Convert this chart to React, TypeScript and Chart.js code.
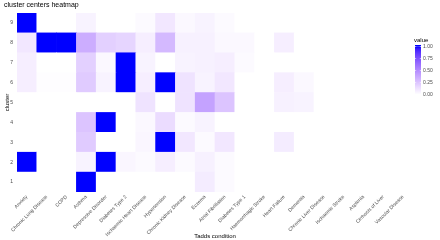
import React, { useEffect, useRef } from "react";
import { Chart, registerables } from "chart.js";

Chart.register(...registerables);

const conditions = [
  "Anxiety",
  "Chronic Lung Disease",
  "COPD",
  "Asthma",
  "Depressive Disorder",
  "Diabetes Type 2",
  "Ischaemic Heart Disease",
  "Hypertension",
  "Chronic Kidney Disease",
  "Eczema",
  "Atrial Fibrillation",
  "Diabetes Type 1",
  "Haemorrhagic Stroke",
  "Heart Failure",
  "Dementia",
  "Chronic Liver Disease",
  "Ischaemic Stroke",
  "Asplenia",
  "Cirrhosis of Liver",
  "Vascular Disease",
];

const clusterIds = [1, 2, 3, 4, 5, 6, 7, 8, 9];

const cluster1 = [0, 0, 0, 1.0, 0, 0, 0, 0, 0, 0.08, 0.02, 0, 0, 0, 0, 0, 0, 0, 0, 0];
const cluster2 = [1.0, 0, 0, 0.05, 1.0, 0.04, 0.02, 0.07, 0.02, 0.06, 0.02, 0, 0, 0, 0, 0, 0, 0, 0, 0];
const cluster3 = [0, 0, 0, 0.22, 0, 0, 0.04, 1.0, 0.1, 0.02, 0.1, 0, 0, 0.08, 0, 0, 0, 0, 0, 0];
const cluster4 = [0, 0, 0, 0.25, 1.0, 0, 0.03, 0.15, 0.02, 0.05, 0, 0, 0, 0, 0, 0, 0, 0, 0, 0];
const cluster5 = [0, 0, 0, 0, 0, 0, 0.12, 0, 0.12, 0.4, 0.25, 0, 0, 0.06, 0.05, 0, 0, 0, 0, 0];
const cluster6 = [0.07, 0.01, 0.01, 0.22, 0.05, 1.0, 0.07, 1.0, 0.12, 0.05, 0.1, 0, 0, 0.07, 0.03, 0, 0, 0, 0, 0];
const cluster7 = [0.07, 0, 0, 0.2, 0.03, 1.0, 0.05, 0, 0.05, 0.06, 0.07, 0.02, 0, 0, 0, 0, 0, 0, 0, 0];
const cluster8 = [0.1, 1.0, 1.0, 0.35, 0.2, 0.18, 0.07, 0.3, 0.06, 0.06, 0.03, 0.03, 0, 0.07, 0, 0, 0, 0, 0, 0];
const cluster9 = [1.0, 0, 0, 0.05, 0, 0, 0.02, 0.1, 0.03, 0.05, 0.02, 0, 0, 0, 0, 0, 0, 0, 0, 0];

const clusterValues = [cluster1, cluster2, cluster3, cluster4, cluster5, cluster6, cluster7, cluster8, cluster9];

const legendTicks = [1.0, 0.75, 0.5, 0.25, 0.0];

const LOW = [255, 255, 255];
const HIGH = [0, 0, 255];

function toLin(c: number) {
  c /= 255;
  return c <= 0.04045 ? c / 12.92 : Math.pow((c + 0.055) / 1.055, 2.4);
}
function fromLin(c: number) {
  const v = c <= 0.0031308 ? 12.92 * c : 1.055 * Math.pow(c, 1 / 2.4) - 0.055;
  return Math.max(0, Math.min(255, Math.round(v * 255)));
}
const Xn = 0.95047, Yn = 1.0, Zn = 1.08883;
function rgbToLab(rgb: number[]) {
  const r = toLin(rgb[0]), g = toLin(rgb[1]), b = toLin(rgb[2]);
  const X = (0.4124 * r + 0.3576 * g + 0.1805 * b) / Xn;
  const Y = (0.2126 * r + 0.7152 * g + 0.0722 * b) / Yn;
  const Z = (0.0193 * r + 0.1192 * g + 0.9505 * b) / Zn;
  const f = (t: number) => (t > 0.008856 ? Math.cbrt(t) : 7.787 * t + 16 / 116);
  const fx = f(X), fy = f(Y), fz = f(Z);
  return [116 * fy - 16, 500 * (fx - fy), 200 * (fy - fz)];
}
function labToRgb(lab: number[]) {
  const fy = (lab[0] + 16) / 116;
  const fx = fy + lab[1] / 500;
  const fz = fy - lab[2] / 200;
  const inv = (t: number) => (t * t * t > 0.008856 ? t * t * t : (t - 16 / 116) / 7.787);
  const X = inv(fx) * Xn, Y = inv(fy) * Yn, Z = inv(fz) * Zn;
  const r = 3.2406 * X - 1.5372 * Y - 0.4986 * Z;
  const g = -0.9689 * X + 1.8758 * Y + 0.0415 * Z;
  const b = 0.0557 * X - 0.204 * Y + 1.057 * Z;
  return [fromLin(r), fromLin(g), fromLin(b)];
}
const LAB_LOW = rgbToLab(LOW);
const LAB_HIGH = rgbToLab(HIGH);
function colorFor(v: number) {
  const t = Math.max(0, Math.min(1, v));
  const lab = LAB_LOW.map((l, i) => l + (LAB_HIGH[i] - l) * t);
  const [r, g, b] = labToRgb(lab);
  return `rgb(${r},${g},${b})`;
}

const FONT = "'Liberation Sans', Arial, sans-serif";

const legendPlugin = {
  id: "colorbarLegend",
  afterDraw(chart: any) {
    const ctx = chart.ctx as CanvasRenderingContext2D;
    const barX = 415;
    const barW = 6;
    const barTop = 45;
    const barBottom = 96;
    const vTop = 46.5;
    const vBottom = 94.5;
    ctx.save();
    ctx.fillStyle = "#000";
    ctx.font = `6px ${FONT}`;
    ctx.textAlign = "left";
    ctx.textBaseline = "middle";
    ctx.fillText("value", 414, 40);
    const grad = ctx.createLinearGradient(0, vBottom, 0, vTop);
    for (let i = 0; i <= 20; i++) {
      grad.addColorStop(i / 20, colorFor(i / 20));
    }
    ctx.fillStyle = colorFor(1);
    ctx.fillRect(barX, barTop, barW, vTop - barTop);
    ctx.fillStyle = colorFor(0);
    ctx.fillRect(barX, vBottom, barW, barBottom - vBottom);
    ctx.fillStyle = grad;
    ctx.fillRect(barX, vTop, barW, vBottom - vTop);
    ctx.font = `5px ${FONT}`;
    ctx.fillStyle = "#4d4d4d";
    legendTicks.forEach((t) => {
      const y = vBottom - (vBottom - vTop) * t;
      ctx.strokeStyle = "#fff";
      ctx.lineWidth = 0.5;
      ctx.beginPath();
      ctx.moveTo(barX, y);
      ctx.lineTo(barX + 1.2, y);
      ctx.moveTo(barX + barW - 1.2, y);
      ctx.lineTo(barX + barW, y);
      ctx.stroke();
      ctx.fillText(t.toFixed(2), 423, y);
    });
    ctx.restore();
  },
};

export default function App() {
  const ref = useRef<HTMLCanvasElement | null>(null);
  useEffect(() => {
    if (!ref.current) return;
    const datasets = clusterIds.map((id, k) => ({
      label: String(id),
      data: conditions.map(() => [id - 0.5, id + 0.5]),
      backgroundColor: clusterValues[k].map((v) => colorFor(v)),
      borderWidth: 0,
      barPercentage: 1,
      categoryPercentage: 1,
      grouped: false,
    }));
    const chart = new Chart(ref.current, {
      type: "bar",
      data: { labels: conditions, datasets: datasets as any },
      options: {
        responsive: false,
        animation: false,
        devicePixelRatio: 1,
        layout: { padding: { left: 4, right: 27, top: 0, bottom: 0 } },
        plugins: {
          legend: { display: false },
          tooltip: { enabled: false },
          title: {
            display: true,
            text: "cluster centers heatmap",
            align: "start",
            color: "#000",
            font: { family: FONT, size: 7, weight: "normal" },
            padding: { top: 1, bottom: 3.6 },
          },
        },
        scales: {
          x: {
            type: "category",
            offset: true,
            grid: { display: false, drawTicks: false, tickLength: 0 },
            border: { display: false },
            ticks: {
              autoSkip: false,
              minRotation: 45,
              maxRotation: 45,
              color: "#4d4d4d",
              padding: 2,
              font: { family: FONT, size: 5 },
            },
            title: {
              display: true,
              text: "Tadds condition",
              color: "#000",
              font: { family: FONT, size: 6 },
              padding: { top: 0, bottom: 0 },
            },
            afterFit: (scale: any) => {
              scale.height = 48;
            },
          },
          y: {
            type: "linear",
            min: 0.5,
            max: 9.5,
            grid: { display: false, drawTicks: false, tickLength: 0 },
            border: { display: false },
            afterBuildTicks: (scale: any) => {
              scale.ticks = clusterIds.map((v) => ({ value: v }));
            },
            ticks: {
              color: "#4d4d4d",
              padding: 4,
              font: { family: FONT, size: 5 },
              callback: (v: any) => String(v),
            },
            title: {
              display: true,
              text: "cluster",
              color: "#000",
              font: { family: FONT, size: 6 },
              padding: { top: 0, bottom: 0 },
            },
            afterFit: (scale: any) => {
              scale.width = 13;
            },
          },
        },
      },
      plugins: [legendPlugin],
    });
    return () => chart.destroy();
  }, []);
  return (
    <div style={{ position: "absolute", left: 0, top: 0, width: 440, height: 240, background: "#fff" }}>
      <canvas ref={ref} width={440} height={240} style={{ width: 440, height: 240 }} />
    </div>
  );
}
